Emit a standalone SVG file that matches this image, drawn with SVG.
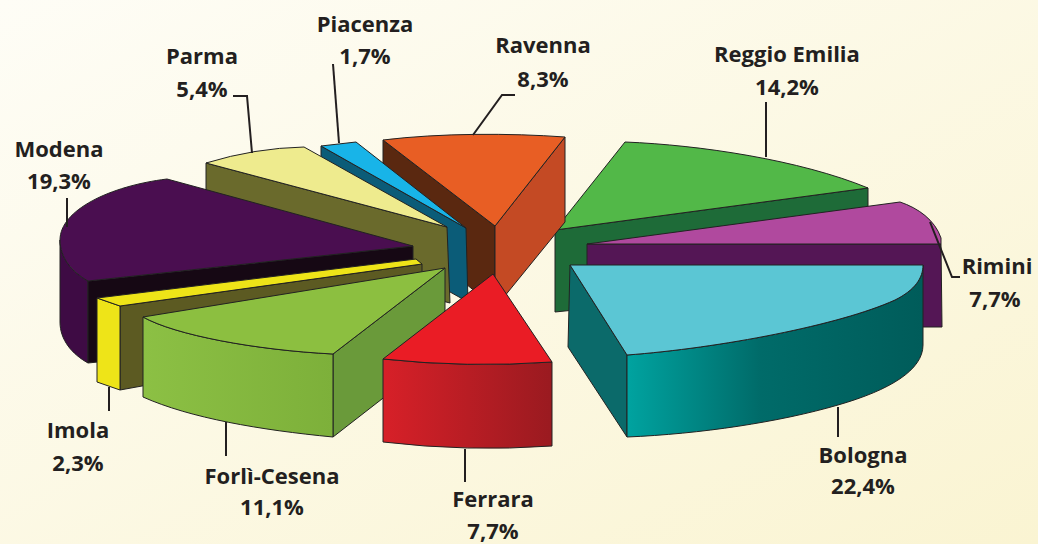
<svg xmlns="http://www.w3.org/2000/svg" width="1038" height="544" viewBox="0 0 1038 544">
<defs>
<linearGradient id="bg" x1="0" y1="0" x2="1" y2="1">
<stop offset="0" stop-color="#FEFDF6"/>
<stop offset="1" stop-color="#FAF4D2"/>
</linearGradient>
<linearGradient id="gBol" gradientUnits="userSpaceOnUse" x1="627" y1="0" x2="923" y2="0">
<stop offset="0" stop-color="#00A3A0"/>
<stop offset="0.45" stop-color="#006B69"/>
<stop offset="1" stop-color="#005C5A"/>
</linearGradient>
<linearGradient id="gFer" gradientUnits="userSpaceOnUse" x1="383" y1="0" x2="552" y2="0">
<stop offset="0" stop-color="#D72028"/>
<stop offset="1" stop-color="#9A1A20"/>
</linearGradient>
<linearGradient id="gFor" gradientUnits="userSpaceOnUse" x1="143" y1="0" x2="333" y2="0">
<stop offset="0" stop-color="#8CC044"/>
<stop offset="1" stop-color="#7DB03A"/>
</linearGradient>
</defs>
<style>
.f{stroke:#222;stroke-width:1;stroke-linejoin:round}
.t{font-family:"Open Sans","Liberation Sans",sans-serif;font-weight:700;font-size:22px;fill:#231F20;text-anchor:middle}
.ld{fill:none;stroke:#231F20;stroke-width:2}
</style>
<rect width="1038" height="544" fill="url(#bg)"/>

<g id="reggio-emilia">
<path class="f" fill="#1E6B38" d="M555,230 L868,188 L868,280 L555,312 Z"/>
<path class="f" fill="#52B848" d="M555,230 L625,142 C700,145 800,160 868,188 Z"/>
<text class="t" x="787" y="62">Reggio Emilia</text>
<text class="t" x="787" y="95">14,2%</text>
</g>

<g id="ravenna">
<path class="f" fill="#5A2810" d="M383,140 L495,226 L495,308 L383,215 Z"/>
<path class="f" fill="#C44A24" d="M495,226 L565,137 L565,222 L495,308 Z"/>
<path class="f" fill="#E85E24" d="M383,140 C440,133 510,133 565,137 L495,226 Z"/>
<text class="t" x="543" y="53">Ravenna</text>
<text class="t" x="543" y="87">8,3%</text>
</g>

<g id="piacenza">
<path class="f" fill="#0B5C78" d="M321,146 L466,228 L468,302 L321,220 Z"/>
<path class="f" fill="#18B4E8" d="M321,146 L356,142 L466,228 Z"/>
<text class="t" x="365" y="32">Piacenza</text>
<text class="t" x="365" y="64">1,7%</text>
</g>

<g id="parma">
<path class="f" fill="#6A6A2C" d="M206,163 L447,227 L450,303 L206,240 Z"/>
<path class="f" fill="#EEEB8E" d="M206,163 Q255,148 304,147 L447,227 Z"/>
<text class="t" x="202" y="64">Parma</text>
<text class="t" x="202" y="97">5,4%</text>
</g>

<g id="rimini">
<path class="f" fill="#541655" d="M587,244 L941,244 L942,327 L587,327 Z"/>
<path class="f" fill="#B0499E" d="M587,244 L900,202 C918,208 935,220 941,238 L941,244 Z"/>
<text class="t" x="997" y="274">Rimini</text>
<text class="t" x="995" y="307">7,7%</text>
</g>

<g id="modena">
<path class="f" fill="#3E0B44" d="M60,240 C60,258 72,272 88,281 L88,363 C72,354 60,340 60,322 Z"/>
<path class="f" fill="#160814" d="M88,281 L413,246 L413,330 L88,363 Z"/>
<path class="f" fill="#4A0E50" d="M413,246 L167,179 C110,186 60,210 60,240 C60,258 72,272 88,281 Z"/>
<text class="t" x="59" y="157">Modena</text>
<text class="t" x="59" y="189">19,3%</text>
</g>

<g id="bologna">
<path class="f" fill="#0B6A6A" d="M570,265 L627,355 L627,437 L568,347 Z"/>
<path class="f" fill="url(#gBol)" d="M627,355 C720,348 840,325 895,300 C915,290 923,278 923,265 L923,345 C923,370 890,390 838,405 C780,422 700,434 627,437 Z"/>
<path class="f" fill="#5BC6D4" d="M570,265 L923,265 C923,278 915,290 895,300 C840,325 720,348 627,355 Z"/>
<text class="t" x="863" y="463">Bologna</text>
<text class="t" x="863" y="494">22,4%</text>
</g>

<g id="imola">
<path class="f" fill="#5C5A22" d="M120,306 L422,264 L422,335 L120,390 Z"/>
<path class="f" fill="#EEE418" d="M97,298 L120,306 L120,390 L97,382 Z"/>
<path class="f" fill="#EEE418" d="M97,298 L416,259 L422,264 L120,306 Z"/>
<text class="t" x="78" y="438">Imola</text>
<text class="t" x="78" y="471">2,3%</text>
</g>

<g id="forli-cesena">
<path class="f" fill="#6A9A3A" d="M333,354 L445,268 L445,350 L333,437 Z"/>
<path class="f" fill="url(#gFor)" d="M143,317 C175,335 255,350 333,354 L333,437 C260,430 190,418 143,397 Z"/>
<path class="f" fill="#8CBF40" d="M143,317 L445,268 L333,354 C255,350 175,335 143,317 Z"/>
<text class="t" x="272" y="484">Forlì-Cesena</text>
<text class="t" x="272" y="515">11,1%</text>
</g>

<g id="ferrara">
<path class="f" fill="url(#gFer)" d="M383,359 Q467,368 552,362 L552,446 Q467,452 383,442 Z"/>
<path class="f" fill="#EA1C25" d="M493,274 L552,362 Q467,368 383,359 Z"/>
<text class="t" x="493" y="507">Ferrara</text>
<text class="t" x="493" y="539">7,7%</text>
</g>

<g id="connectors">
<path class="ld" d="M333,64 L339,143"/>
<path class="ld" d="M233,96 L247,96 L252,153"/>
<path class="ld" d="M515,95 L502,95 L473,135"/>
<path class="ld" d="M766,102 L766,157"/>
<path class="ld" d="M67,198 L67,227"/>
<path class="ld" d="M930,222 L952,277 L960,277"/>
<path class="ld" d="M838,407 L838,437"/>
<path class="ld" d="M465,449 L465,482"/>
<path class="ld" d="M226,422 L226,456"/>
<path class="ld" d="M109,387 L109,411"/>
</g>
</svg>
